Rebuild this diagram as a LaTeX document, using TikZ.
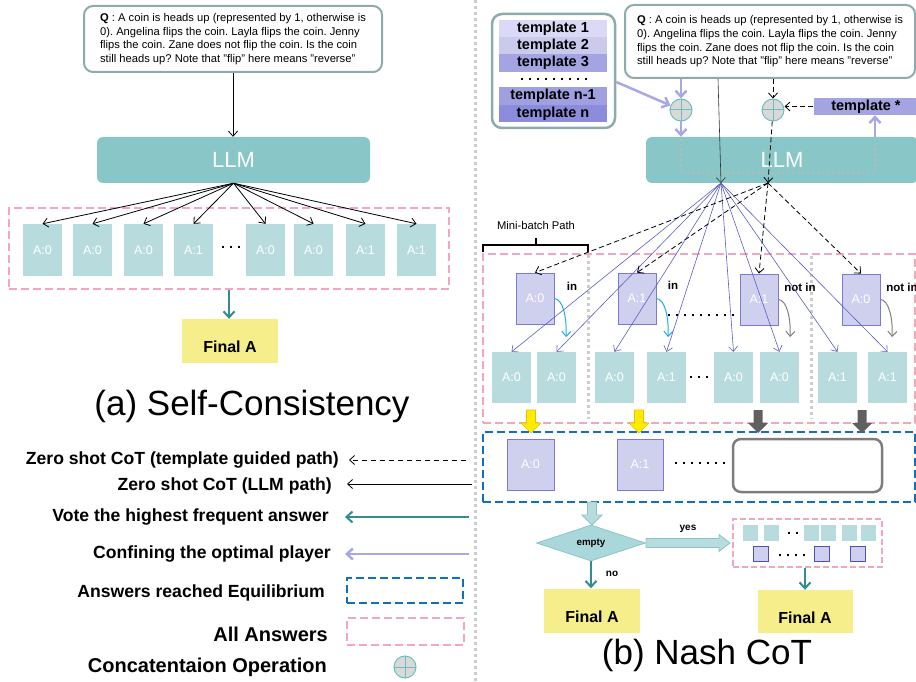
\documentclass[tikz,border=0pt]{standalone}
\usepackage{fontspec}
\setmainfont{Liberation Sans}
\usetikzlibrary{arrows.meta,shapes.geometric}

\definecolor{qedge}{RGB}{140,172,172}
\definecolor{llmteal}{RGB}{136,198,200}
\definecolor{ansteal}{RGB}{184,220,222}
\definecolor{diafill}{RGB}{170,216,218}
\definecolor{allpink}{RGB}{244,166,188}
\definecolor{votegreen}{RGB}{52,140,142}
\definecolor{lav}{RGB}{168,168,232}
\definecolor{playfill}{RGB}{207,207,238}
\definecolor{playedge}{RGB}{122,122,214}
\definecolor{sqedge}{RGB}{80,80,180}
\definecolor{pathblue}{RGB}{92,92,200}
\definecolor{curvecyan}{RGB}{30,172,240}
\definecolor{eqblue}{RGB}{16,112,192}
\definecolor{finyellow}{RGB}{245,238,138}
\definecolor{goldarrow}{RGB}{255,236,0}
\definecolor{goldedge}{RGB}{238,190,0}
\definecolor{darkblock}{RGB}{96,96,96}
\definecolor{emptyedge}{RGB}{125,125,125}
\definecolor{divgray}{RGB}{205,205,205}
\definecolor{catfill}{RGB}{217,217,217}
\definecolor{catedge}{RGB}{110,190,192}
\definecolor{tplA}{RGB}{218,218,246}
\definecolor{tplB}{RGB}{202,202,236}
\definecolor{tplC}{RGB}{164,164,226}
\definecolor{tplD}{RGB}{160,160,224}
\definecolor{tplE}{RGB}{140,140,220}

\frenchspacing
\newcommand{\coinq}{\textbf{Q} : A coin is heads up (represented by 1, otherwise is\\0). Angelina flips the coin. Layla flips the coin. Jenny\\flips the coin. Zane does not flip the coin. Is the coin\\still heads up? Note that "flip" here means "reverse"}

\begin{document}
\begin{tikzpicture}[x=1pt,y=-1pt,
	qbox/.style={draw=qedge,line width=2pt,rounded corners=9pt,fill=white,align=left,inner sep=0pt,font=\fontsize{11.2}{13.7}\selectfont},
	llm/.style={fill=llmteal,rounded corners=6pt,text=white,font=\fontsize{22}{26}\selectfont},
	ans/.style={fill=ansteal,minimum width=39pt,minimum height=52pt,inner sep=0pt,text=white,font=\fontsize{12.5}{14}\selectfont},
	player/.style={fill=playfill,draw=playedge,line width=0.8pt,minimum width=38pt,minimum height=51pt,inner sep=0pt,text=white,font=\fontsize{12.5}{14}\selectfont},
	allbox/.style={draw=allpink,line width=2pt,dash pattern=on 8pt off 4pt,inner sep=0pt},
	eqbox/.style={draw=eqblue,line width=2.5pt,dash pattern=on 8pt off 4pt,inner sep=0pt},
	final/.style={fill=finyellow,minimum width=96pt,minimum height=44pt,inner sep=0pt,text height=23.5pt,font=\fontsize{16}{19}\selectfont\bfseries},
	llmarrow/.style={-{Straight Barb[length=5pt,width=9pt]},line width=0.8pt},
	tplarrow/.style={llmarrow,dash pattern=on 5pt off 3pt},
	batcharrow/.style={-{Straight Barb[length=5pt,width=9pt]},draw=pathblue,line width=0.6pt},
	votearrow/.style={-{Straight Barb[length=6pt,width=11pt]},draw=votegreen,line width=2pt},
	lavarrow/.style={-{Straight Barb[length=6pt,width=11pt]},draw=lav,line width=2.5pt},
	bendarrow/.style={-{Straight Barb[length=5pt,width=9pt]},line width=1pt},
	concat/.style={circle,draw=catedge,fill=catfill,line width=1pt,minimum size=22pt,inner sep=0pt,
		path picture={\draw[catedge,line width=1pt] (path picture bounding box.north) -- (path picture bounding box.south) (path picture bounding box.west) -- (path picture bounding box.east);}},
	divider/.style={draw=divgray,line width=3pt,dash pattern=on 3pt off 3pt},
	loopline/.style={draw=gray!55,line width=2.5pt,dash pattern=on 2.5pt off 2.5pt},
	dotrow/.style={line width=2.4pt,dash pattern=on 2.4pt off 5.6pt},
	legend/.style={anchor=east,inner sep=0pt,font=\fontsize{17.6}{20}\selectfont\bfseries},
	tpl/.style={minimum width=108pt,minimum height=17pt,inner sep=0pt,font=\fontsize{14.5}{16}\selectfont\bfseries},
	tag/.style={inner sep=0pt,font=\fontsize{11.5}{13}\selectfont\bfseries},
	sq/.style={fill=ansteal,minimum width=15pt,minimum height=16pt,inner sep=0pt},
	psq/.style={fill=playfill,draw=sqedge,line width=1pt,minimum size=15pt,inner sep=0pt},
	downblock/.pic={\path[pic actions] (-4.5,0) -- (4.5,0) -- (4.5,13) -- (10,13) -- (0,23) -- (-10,13) -- (-4.5,13) -- cycle;}
	]
	\useasboundingbox (0,0) rectangle (916,682);

	\node[qbox,minimum width=298pt,minimum height=66pt] (qa) at (233,39) {\coinq};
	\node[llm,minimum width=273pt,minimum height=46pt] (llma) at (233.5,160) {LLM};
	\draw[llmarrow] (qa.south) -- (qa.south |- llma.north);

	\node[allbox,minimum width=440pt,minimum height=81pt] (alla) at (229,248.5) {};
	\node[ans] (a1) at (42.5,250) {A:0};
	\node[ans] (a2) at (92.5,250) {A:0};
	\node[ans] (a3) at (143.5,250) {A:0};
	\node[ans] (a4) at (193.5,250) {A:1};
	\node[ans] (a5) at (265.5,250) {A:0};
	\node[ans] (a6) at (313.5,250) {A:0};
	\node[ans] (a7) at (365.5,250) {A:1};
	\node[ans] (a8) at (416.5,250) {A:1};
	\draw[dotrow] (222,247) -- (240.4,247);
	\draw[llmarrow] (llma.south) -- (a1.north);
	\draw[llmarrow] (llma.south) -- (a2.north);
	\draw[llmarrow] (llma.south) -- (a3.north);
	\draw[llmarrow] (llma.south) -- (a4.north);
	\draw[llmarrow] (llma.south) -- (a5.north);
	\draw[llmarrow] (llma.south) -- (a6.north);
	\draw[llmarrow] (llma.south) -- (a7.north);
	\draw[llmarrow] (llma.south) -- (a8.north);

	\node[final] (fina) at (230,341) {Final A};
	\draw[votearrow] (alla.south) -- (alla.south |- fina.north);
	\node[font=\fontsize{35}{40}\selectfont] (tita) at (252,406) {(a) Self-Consistency};

	\node[legend] (lg1) at (339,460) {Zero shot CoT (template guided path)};
	\node[legend] (lg2) at (332,486) {Zero shot CoT (LLM path)};
	\node[legend] (lg3) at (329,517) {Vote the highest frequent answer};
	\node[legend] (lg4) at (331,554) {Confining the optimal player};
	\node[legend] (lg5) at (325,593) {Answers reached Equilibrium};
	\node[legend,font=\fontsize{20}{23}\selectfont\bfseries] (lg6) at (328,634) {All Answers};
	\node[legend,font=\fontsize{20}{23}\selectfont\bfseries] (lg7) at (327,667) {Concatentaion Operation};
	\coordinate (l1s) at (466,460);
	\coordinate (l1e) at (349,460);
	\coordinate (l2s) at (472,484);
	\coordinate (l2e) at (347,484);
	\coordinate (l3s) at (469,517);
	\coordinate (l3e) at (345,517);
	\coordinate (l4s) at (469,554);
	\coordinate (l4e) at (345,554);
	\draw[tplarrow,dash pattern=on 5pt off 4pt] (l1s) -- (l1e);
	\draw[llmarrow] (l2s) -- (l2e);
	\draw[votearrow] (l3s) -- (l3e);
	\draw[lavarrow] (l4s) -- (l4e);
	\node[eqbox,minimum width=116pt,minimum height=25pt] (lg5box) at (405,590.5) {};
	\node[allbox,minimum width=117pt,minimum height=27pt] (lg6box) at (405.5,631.5) {};
	\node[concat] (lg7cat) at (405,667) {};

	\draw[divider] (475,0) -- (475,682);

	\node[draw=qedge,line width=2.5pt,rounded corners=10pt,minimum width=123pt,minimum height=114pt] (tbox) at (553.5,71) {};
	\node[tpl,fill=tplA] (t1) at (553,29) {template 1};
	\node[tpl,fill=tplB] (t2) at (553,45.5) {template 2};
	\node[tpl,fill=tplC,minimum height=18pt] (t3) at (553,63) {template 3};
	\draw[dotrow] (521,79) -- (587.4,79);
	\node[tpl,fill=tplD,minimum height=18pt] (tn1) at (553,96) {template n-1};
	\node[tpl,fill=tplE] (tn) at (553,113.5) {template n};

	\node[qbox,minimum width=290pt,minimum height=73pt] (qb) at (770,41.5) {\coinq};
	\node[concat] (c1) at (681,110) {};
	\node[concat] (c2) at (773,110) {};
	\node[llm,minimum width=272pt,minimum height=46pt] (llmb) at (782,160) {LLM};
	\node[fill=tplC,minimum width=105pt,minimum height=17pt,inner sep=0pt,font=\fontsize{14.5}{16}\selectfont\bfseries] (tstar) at (866,106.5) {template *};

	\draw[lavarrow] ([yshift=-11pt]tbox.east) -- (c1);
	\draw[lavarrow] (qb.south -| c1) -- (c1);
	\draw[lavarrow] (c1) -- (c1 |- llmb.north);
	\coordinate (loopa) at (681,173);
	\coordinate (loopb) at (875,173);
	\draw[loopline] ([yshift=-2pt]c1 |- llmb.north) -- (loopa) -- (loopb) -- ([yshift=-2pt]loopb |- llmb.north);
	\draw[lavarrow] (loopb |- llmb.north) -- (loopb |- tstar.south);

	\coordinate (p1) at (721,183);
	\coordinate (p2) at (768,183);
	\draw[tplarrow] (tstar.west) -- (tstar.west -| c2.east);
	\draw[tplarrow] (qb.south -| c2) -- (c2);
	\draw[tplarrow] (c2) -- (p2);
	\draw[llmarrow,line width=0.6pt,draw=black!80] ([xshift=-52pt]qb.south) -- (p1);

	\node[font=\fontsize{11.2}{13}\selectfont] (mbp) at (536,225) {Mini-batch Path};
	\draw[line width=1.2pt] (483,252) -- (483,245) -- (588,245) -- (588,252) (536,245) -- (536,238);

	\node[allbox,minimum width=432pt,minimum height=169pt] (allb) at (699,338.5) {};
	\draw[divider] (588,255) -- (588,419);
	\draw[divider] (811,256) -- (811,419);

	\node[player] (mb1) at (535,298.5) {A:0};
	\node[player] (mb2) at (637,298.5) {A:1};
	\node[player] (mb3) at (759,299.5) {A:1};
	\node[player] (mb4) at (861,299.5) {A:0};
	\node[tag] (tin1) at (572,286) {in};
	\node[tag] (tin2) at (673,285) {in};
	\node[tag] (tnot1) at (800,287) {not in};
	\node[tag] (tnot2) at (902,287) {not in};
	\draw[dotrow] (668,315) -- (734.4,315);

	\node[ans,minimum height=51pt] (b1) at (511.5,377.5) {A:0};
	\node[ans,minimum height=51pt] (b2) at (556.5,377.5) {A:0};
	\node[ans,minimum height=51pt] (b3) at (614.5,377.5) {A:0};
	\node[ans,minimum height=51pt] (b4) at (666.5,377.5) {A:1};
	\node[ans,minimum height=51pt] (b5) at (733.5,377.5) {A:0};
	\node[ans,minimum height=51pt] (b6) at (779.5,377.5) {A:0};
	\node[ans,minimum height=51pt] (b7) at (837.5,377.5) {A:1};
	\node[ans,minimum height=51pt] (b8) at (887.5,377.5) {A:1};
	\draw[dotrow] (690,377) -- (708.4,377);

	\coordinate (in1) at (566,337);
	\coordinate (in2) at (668,337);
	\coordinate (out1) at (790,337);
	\coordinate (out2) at (892,337);
	\draw[bendarrow,curvecyan] (mb1.east) .. controls (563,299) and (567,318) .. (in1);
	\draw[bendarrow,curvecyan] (mb2.east) .. controls (665,299) and (669,318) .. (in2);
	\draw[bendarrow,gray] (mb3.east) .. controls (787,300) and (791,319) .. (out1);
	\draw[bendarrow,gray] (mb4.east) .. controls (889,300) and (893,319) .. (out2);

	\draw[batcharrow] (p1) -- (b1.north);
	\draw[batcharrow] (p1) -- (b2.north);
	\draw[batcharrow] (p1) -- (b3.north);
	\draw[batcharrow] (p1) -- (b4.north);
	\draw[batcharrow] (p1) -- (b5.north);
	\draw[batcharrow] (p1) -- (b6.north);
	\draw[batcharrow] (p1) -- (b7.north);
	\draw[batcharrow] (p1) -- (b8.north);
	\draw[tplarrow] (p2) -- (mb1.north);
	\draw[tplarrow] (p2) -- (mb2.north);
	\draw[tplarrow] (p2) -- (mb3.north);
	\draw[tplarrow] (p2) -- (mb4.north);

	\node[eqbox,minimum width=432pt,minimum height=70pt] (eqb) at (699,467) {};
	\pic[fill=goldarrow,draw=goldedge,line width=0.6pt] at (531,410) {downblock};
	\pic[fill=goldarrow,draw=goldedge,line width=0.6pt] at (639,410) {downblock};
	\pic[fill=darkblock] at (758,410) {downblock};
	\pic[fill=darkblock] at (862,410) {downblock};
	\node[player,minimum width=47pt] (e1) at (530.5,464.5) {A:0};
	\node[player,minimum width=46pt] (e2) at (640,464.5) {A:1};
	\draw[dotrow] (675,463) -- (725.4,463);
	\node[draw=emptyedge,line width=2.5pt,rounded corners=8pt,minimum width=149pt,minimum height=53pt] (eempty) at (807.5,465.5) {};

	\pic[fill=ansteal,draw=llmteal,line width=0.8pt] at (592,502) {downblock};
	\node[diamond,aspect=3,minimum width=109pt,minimum height=36pt,inner sep=0pt,fill=diafill,draw=llmteal,line width=0.8pt,font=\fontsize{9.8}{11}\selectfont\bfseries] (dia) at (591,543) {empty};
	\path[fill=ansteal,draw=llmteal,line width=0.8pt] (646,538.5) -- (719,538.5) -- (719,534.5) -- (730,543) -- (719,551.5) -- (719,547.5) -- (646,547.5) -- cycle;
	\node[tag,font=\fontsize{10}{12}\selectfont\bfseries] (yes) at (688,529) {yes};
	\node[tag,font=\fontsize{10}{12}\selectfont\bfseries] (no) at (612,574) {no};

	\node[final] (finb) at (592,610.5) {Final A};
	\draw[votearrow] (dia.south) -- (dia.south |- finb.north);

	\node[allbox,line width=1.8pt,dash pattern=on 6pt off 3pt,minimum width=149pt,minimum height=48pt] (allc) at (807.5,543) {};
	\node[sq] (s1) at (750.5,533) {};
	\node[sq] (s2) at (771.5,533) {};
	\node[sq] (s3) at (811.5,533) {};
	\node[sq] (s4) at (828.5,533) {};
	\node[sq] (s5) at (849.5,533) {};
	\node[sq] (s6) at (868.5,533) {};
	\draw[dotrow] (788,533) -- (798.4,533);
	\node[psq] (r1) at (760.8,554) {};
	\node[psq] (r2) at (821.5,554) {};
	\node[psq] (r3) at (858.2,554) {};
	\draw[dotrow] (779,555) -- (805.4,555);

	\node[final,minimum width=95pt,minimum height=43pt] (finc) at (805,611.5) {Final A};
	\draw[votearrow] (finc.north |- allc.south) -- (finc.north);

	\node[font=\fontsize{35}{40}\selectfont] (titb) at (707,655) {(b) Nash CoT};
\end{tikzpicture}
\end{document}
